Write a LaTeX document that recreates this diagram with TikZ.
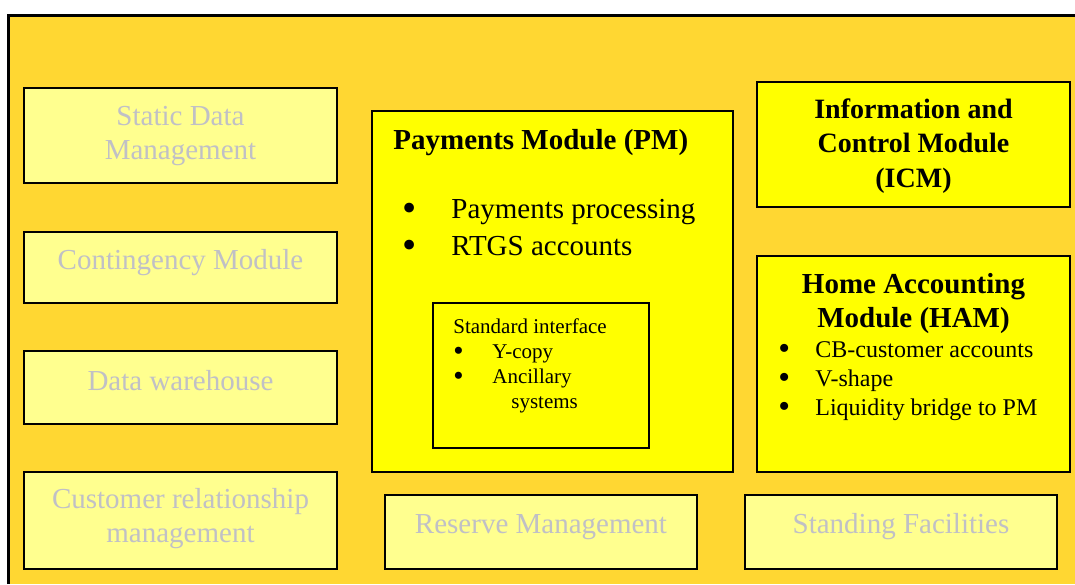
\documentclass[tikz,border=0pt]{standalone}
\usepackage{fontspec}
\setmainfont{Liberation Serif}
\definecolor{panelgold}{HTML}{FFD732}
\definecolor{paleyellow}{HTML}{FFFF8F}
\definecolor{moduleyellow}{HTML}{FFFF00}
\definecolor{fadedgrey}{HTML}{C0C0C6}
\newcommand{\bul}[1]{\makebox[#1][l]{\smash{\raisebox{-0.12em}{\scalebox{1.4}{\textbullet}}}}}
\begin{document}
\begin{tikzpicture}[
		x=0.5pt, y=-0.5pt,
		box/.style={draw, line width=1pt, inner sep=0pt},
		boxsize/.style 2 args={minimum width=#1*0.5pt, minimum height=#2*0.5pt},
		lightbox/.style={box, fill=paleyellow},
		modbox/.style={box, fill=moduleyellow},
		txt/.style={inner sep=0pt, anchor=base},
		greylabel/.style={txt, text=fadedgrey, align=center, font=\fontsize{14.5pt}{17pt}\selectfont},
		title/.style={txt, align=center, font=\fontsize{14.5pt}{17pt}\selectfont\bfseries},
		list/.style={txt, anchor=base west, align=left},
	]
		\useasboundingbox (0,0) rectangle (1075,584);
		\fill[panelgold] (8,15) rectangle (1075,584);
		\draw[line width=1.5pt] (8,584) -- (8,15) -- (1075,15);

		\node at (180.5,135.5) (sdm) [lightbox, boxsize={313}{95}] {};
		\node at (180.5,267.5) (cm) [lightbox, boxsize={313}{71}] {};
		\node at (180.5,387.5) (dw) [lightbox, boxsize={313}{73}] {};
		\node at (180.5,520.5) (crm) [lightbox, boxsize={313}{97}] {};
		\node at (541,532) (rm) [lightbox, boxsize={312}{74}] {};
		\node at (901,532) (sf) [lightbox, boxsize={312}{74}] {};

		\node at (180.5,159) (sdmtext) [greylabel] {Static Data\\Management};
		\node at (180.5,269) (cmtext) [greylabel] {Contingency Module};
		\node at (180.5,390) (dwtext) [greylabel] {Data warehouse};
		\node at (180.5,542) (crmtext) [greylabel] {Customer relationship\\management};
		\node at (541,533) (rmtext) [greylabel] {Reserve Management};
		\node at (901,533) (sftext) [greylabel] {Standing Facilities};

		\node at (552.5,291.5) (pm) [modbox, boxsize={361}{361}] {};
		\node at (541,375.5) (si) [box, boxsize={216}{145}] {};
		\node at (913.5,144.5) (icm) [modbox, boxsize={313}{125}] {};
		\node at (913.5,364) (ham) [modbox, boxsize={313}{216}] {};

		\node at (393,149) (pmtitle) [title, anchor=base west] {Payments Module (PM)};
		\node at (402,255) (pmlist) [list, font=\fontsize{14.5pt}{18.5pt}\selectfont]
			{\bul{24.5pt}Payments processing\\\bul{24.5pt}RTGS accounts};
		\node at (453,408) (silist) [list, font=\fontsize{10.5pt}{12.5pt}\selectfont]
			{Standard interface\\\bul{19.5pt}Y-copy\\\bul{19.5pt}Ancillary\\\makebox[29pt]{}systems};
		\node at (913.5,187) (icmtext) [title, font=\fontsize{14pt}{17.25pt}\selectfont\bfseries]
			{Information and\\Control Module\\(ICM)};
		\node at (913.5,327) (hamtitle) [title] {Home Accounting\\Module (HAM)};
		\node at (778,415) (hamlist) [list, font=\fontsize{12pt}{14.5pt}\selectfont]
			{\bul{18.5pt}CB-customer accounts\\\bul{18.5pt}V-shape\\\bul{18.5pt}Liquidity bridge to PM};
	\end{tikzpicture}
\end{document}
